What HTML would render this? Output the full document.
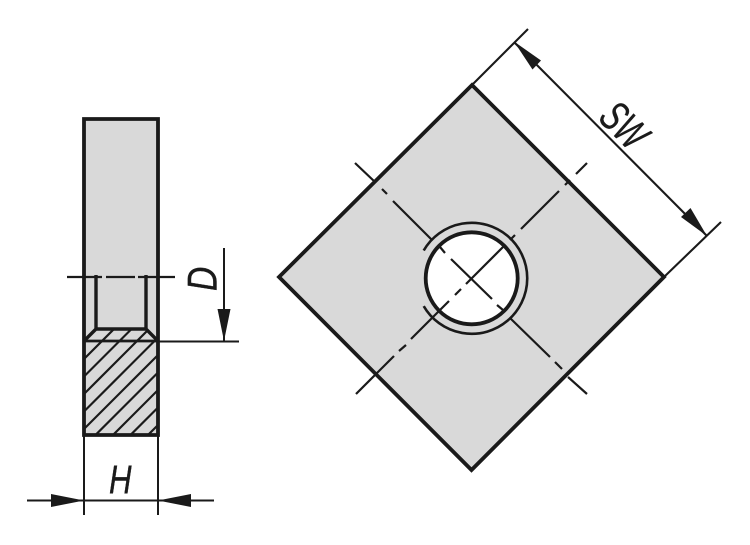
<!DOCTYPE html>
<html>
<head>
<meta charset="utf-8">
<style>
html,body{margin:0;padding:0;background:#fff;width:750px;height:545px;overflow:hidden}
svg{display:block}
text{font-family:"Liberation Sans",sans-serif;font-style:italic;fill:#1a1a1a}
</style>
</head>
<body>
<svg width="750" height="545" viewBox="0 0 750 545" xmlns="http://www.w3.org/2000/svg">
<defs>
<clipPath id="sec"><rect x="85" y="329" width="72" height="105"/></clipPath>
</defs>
<rect width="750" height="545" fill="#fff"/>

<!-- Left view -->
<rect x="84" y="119" width="74" height="316" fill="#d9d9d9"/>
<g clip-path="url(#sec)" stroke="#1a1a1a" stroke-width="2.200" fill="none">
<path d="M124 319L84 359M141.500 319L84 376.500M159 319L84 394M176.500 319L84 411.500M194 319L84 429M211.500 319L84 446.500M229 319L84 464M246.500 319L84 481.500M264 319L84 499"/>
</g>
<path d="M84 329H96L84 341ZM158 329H146L158 341Z" fill="#d9d9d9"/>
<path d="M84 119H158V435H84Z" fill="none" stroke="#1a1a1a" stroke-width="3.800"/>
<path d="M96 275V329L84 341M146 275V329L158 341M96 329H146" fill="none" stroke="#1a1a1a" stroke-width="3.400"/>
<path d="M84 341H158" stroke="#1a1a1a" stroke-width="2.800"/>
<path d="M67 277H102M106 277H135M138 277H175" stroke="#1a1a1a" stroke-width="2.300"/>

<!-- D dimension -->
<path d="M158 341.500H239M224 248V341" stroke="#1a1a1a" stroke-width="2" fill="none"/>
<path d="M224 341L217.500 309H230.500Z" fill="#1a1a1a"/>
<text transform="translate(216.500,291) rotate(-90) scale(0.8,1)" font-size="42" stroke="#1a1a1a" stroke-width="0.400">D</text>

<!-- H dimension -->
<path d="M84 435V515M158 435V515M27 500.500H214" stroke="#1a1a1a" stroke-width="2" fill="none"/>
<path d="M84 500.500L51 494V507ZM158 500.500L191 494V507Z" fill="#1a1a1a"/>
<text transform="translate(109,493) scale(0.78,1)" font-size="40" stroke="#1a1a1a" stroke-width="0.400">H</text>

<!-- Right view -->
<path d="M472 85L664 277L471.500 470L279 277Z" fill="#d9d9d9" stroke="#1a1a1a" stroke-width="3.800" stroke-linejoin="miter"/>
<circle cx="471.700" cy="278.300" r="46" fill="#fff"/>
<circle cx="471.700" cy="278.300" r="46" fill="none" stroke="#1a1a1a" stroke-width="3.800"/>
<path d="M423.700 250.500A55.500 55.500 0 1 1 423.700 306.100" fill="none" stroke="#1a1a1a" stroke-width="2.600"/>

<!-- Centre lines -->
<g stroke="#1a1a1a" stroke-width="2.200" fill="none">
<path d="M355 163L375 182M382 189L387 194M393 201L432 240M440 247L445 253M451 259L492 299M497 305L503 310M510 318L550 357M555 362L562 369M568 377L587 394"/>
<path d="M587 163L576 174M570 180L565 185M559 191L521 229M515 235L510 240M503 247L466 284M461 289L455 295M449 301L411 339M406 345L399 351M394 356L356 394"/>
</g>

<!-- SW dimension -->
<path d="M472 85L528 29M664 277L721 222M514 42L707 236" stroke="#1a1a1a" stroke-width="2.100" fill="none"/>
<path d="M514 41.500L541 60.500L532.500 69.500Z" fill="#1a1a1a"/>
<path d="M707 236L681 217L690.500 208Z" fill="#1a1a1a"/>
<text transform="translate(597,119) rotate(45) scale(0.68,1)" font-size="43" stroke="#1a1a1a" stroke-width="0.400">SW</text>
</svg>
</body>
</html>
